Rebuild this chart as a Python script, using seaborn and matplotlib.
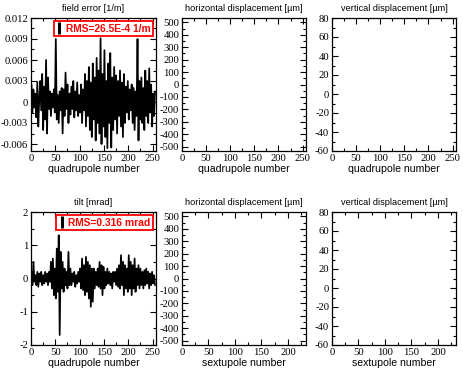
import numpy as np
import pandas as pd
import matplotlib
matplotlib.use("Agg")
import matplotlib.pyplot as plt
from matplotlib.ticker import MultipleLocator, FuncFormatter
from matplotlib.lines import Line2D
import seaborn as sns

# ---------------- data ----------------
quad_numbers = list(range(1, 256, 2))

field_error = [
    0.0025, -0.0015, 0.0018, -0.0008, 0.0012, -0.0022, 0.0028, -0.0035, 0.0005, 0.0030,
    -0.0012, 0.0040, -0.0040, 0.0022, -0.0025, 0.0060, -0.0045, 0.0035, -0.0010, 0.0015,
    -0.0020, 0.0012, -0.0008, 0.0018, -0.0015, 0.0090, -0.0025, 0.0010, -0.0030, 0.0015,
    -0.0012, 0.0020, -0.0045, 0.0018, -0.0020, 0.0042, -0.0010, 0.0025, -0.0030, 0.0012,
    -0.0018, 0.0022, -0.0010, 0.0030, -0.0022, 0.0015, -0.0012, 0.0028, -0.0020, 0.0010,
    -0.0015, 0.0025, -0.0030, 0.0018, -0.0012, 0.0040, -0.0035, 0.0030, -0.0020, 0.0050,
    -0.0040, 0.0028, -0.0050, 0.0055, -0.0025, 0.0035, -0.0055, 0.0063, -0.0030, 0.0045,
    -0.0045, 0.0091, -0.0060, 0.0040, -0.0035, 0.0074, -0.0050, 0.0030, -0.0066, 0.0055,
    -0.0030, 0.0070, -0.0065, 0.0035, -0.0040, 0.0050, -0.0025, 0.0038, -0.0045, 0.0030,
    -0.0020, 0.0045, -0.0035, 0.0028, -0.0050, 0.0040, -0.0030, 0.0022, -0.0015, 0.0030,
    -0.0025, 0.0018, -0.0012, 0.0025, -0.0030, 0.0020, -0.0040, 0.0015, -0.0020, 0.0090,
    -0.0055, 0.0030, -0.0025, 0.0035, -0.0030, 0.0020, -0.0040, 0.0045, -0.0020, 0.0030,
    -0.0030, 0.0048, -0.0015, 0.0025, -0.0035, 0.0012, -0.0020, 0.0015,
]

tilt = [
    0.2, -0.2, 0.5, -0.1, 0.1, -0.2, 0.2, -0.25, 0.15, -0.1,
    0.2, -0.2, 0.1, -0.15, 0.2, -0.1, 0.15, -0.2, 0.2, -0.1,
    0.5, -0.3, 0.6, -0.5, 0.3, -0.6, 0.9, -0.4, 1.3, -1.7,
    0.8, -0.3, 0.5, -0.4, 0.3, -0.2, 0.2, -0.3, 0.8, -0.2,
    0.3, -0.2, 0.15, -0.1, 0.2, -0.25, 0.1, -0.15, 0.2, -0.1,
    0.3, -0.3, 0.6, -0.35, 0.4, -0.5, 0.65, -0.4, 0.5, -0.6,
    0.4, -0.85, 0.3, -0.7, 0.3, -0.3, 0.2, -0.2, 0.3, -0.25,
    0.5, -0.3, 0.4, -0.5, 0.35, -0.3, 0.2, -0.2, 0.3, -0.15,
    0.2, -0.2, 0.15, -0.3, 0.2, -0.1, 0.2, -0.2, 0.3, -0.25,
    0.4, -0.3, 0.7, -0.2, 0.5, -0.5, 0.4, -0.3, 0.3, -0.4,
    0.7, -0.3, 0.5, -0.5, 0.4, -0.3, 0.6, -0.4, 0.3, -0.2,
    0.4, -0.3, 0.3, -0.2, 0.2, -0.3, 0.25, -0.2, 0.3, -0.15,
    0.2, -0.3, 0.15, -0.2, 0.2, -0.15, 0.1, -0.2,
]

titles = [
    ["field error [1/m]", "horizontal displacement [\u00b5m]", "vertical displacement [\u00b5m]"],
    ["tilt [mrad]", "horizontal displacement [\u00b5m]", "vertical displacement [\u00b5m]"],
]
xlabels = [
    ["quadrupole number", "quadrupole number", "quadrupole number"],
    ["quadrupole number", "sextupole number", "sextupole number"],
]
legend_labels = ["RMS=26.5E-4 1/m", "RMS=0.316 mrad"]

# ---------------- style ----------------
sns.set_theme(style="ticks")
plt.rcParams["font.family"] = ["Liberation Sans", "DejaVu Sans"]
plt.rcParams["axes.unicode_minus"] = False

W, H = 463, 371
fig = plt.figure(figsize=(W / 100, H / 100), dpi=100)

def frac_rect(left, top, right, bottom):
    return [left / W, 1 - bottom / H, (right - left) / W, (bottom - top) / H]

col_px = [(31, 156), (182, 306), (332, 456)]
row_px = [(18, 151), (212, 345)]

def fmt_field(v, pos):
    if abs(v) < 1e-9:
        return "0"
    return f"{v:.3f}"

def fmt_int(v, pos):
    return f"{int(round(v))}"

for r in range(2):
    for c in range(3):
        ax = fig.add_axes(frac_rect(col_px[c][0], row_px[r][0], col_px[c][1], row_px[r][1]))
        ax.set_facecolor("white")
        for s in ax.spines.values():
            s.set_color("black")
            s.set_linewidth(0.9)
        if c == 0:
            yvals = field_error if r == 0 else tilt
            df = pd.DataFrame({"n": quad_numbers, "v": yvals})
            sns.lineplot(data=df, x="n", y="v", ax=ax, color="black",
                         linewidth=1.25, estimator=None, sort=False)
            if r == 0:
                ax.set_ylim(-0.007, 0.012)
                ax.yaxis.set_major_locator(MultipleLocator(0.003))
                ax.yaxis.set_minor_locator(MultipleLocator(0.0015))
                ax.yaxis.set_major_formatter(FuncFormatter(fmt_field))
            else:
                ax.set_ylim(-2, 2)
                ax.yaxis.set_major_locator(MultipleLocator(1))
                ax.yaxis.set_minor_locator(MultipleLocator(0.5))
                ax.yaxis.set_major_formatter(FuncFormatter(fmt_int))
            ax.set_xlim(0, 257)
            handle = Line2D([], [], color="black", marker="|", linestyle="none",
                            markersize=8, markeredgewidth=2.2)
            leg = ax.legend([handle], [legend_labels[r]], loc="upper right",
                            handlelength=0.6, handletextpad=0.3,
                            borderpad=0.25, borderaxespad=0.3,
                            fancybox=False, framealpha=1,
                            prop=dict(family="Liberation Sans", weight="bold", size=7.4))
            leg.get_frame().set_edgecolor("red")
            leg.get_frame().set_linewidth(1.3)
            for t in leg.get_texts():
                t.set_color("red")
        elif c == 1:
            ax.set_ylim(-535, 535)
            ax.yaxis.set_major_locator(MultipleLocator(100))
            ax.yaxis.set_minor_locator(MultipleLocator(50))
            ax.yaxis.set_major_formatter(FuncFormatter(fmt_int))
        else:
            ax.set_ylim(-60, 80)
            ax.yaxis.set_major_locator(MultipleLocator(20))
            ax.yaxis.set_minor_locator(MultipleLocator(10))
            ax.yaxis.set_major_formatter(FuncFormatter(fmt_int))
        if c > 0:
            if r == 0:
                ax.set_xlim(0, 257)
            else:
                ax.set_xlim(0, 234)
        ax.xaxis.set_major_locator(MultipleLocator(50))
        ax.xaxis.set_minor_locator(MultipleLocator(25))
        ax.xaxis.set_major_formatter(FuncFormatter(fmt_int))
        ax.tick_params(which="both", direction="in", top=True, right=True,
                       colors="black", width=0.8, pad=2)
        ax.tick_params(which="major", length=4)
        ax.tick_params(which="minor", length=2)
        for lab in ax.get_xticklabels() + ax.get_yticklabels():
            lab.set_fontfamily("Liberation Serif")
            lab.set_fontsize(7.7)
        ax.set_title(titles[r][c], fontsize=6.6, pad=5, color="black")
        ax.set_xlabel(xlabels[r][c], fontsize=7.6, labelpad=1, color="black")
        ax.set_ylabel("")

fig.savefig("out.png", dpi=100, facecolor="white")
